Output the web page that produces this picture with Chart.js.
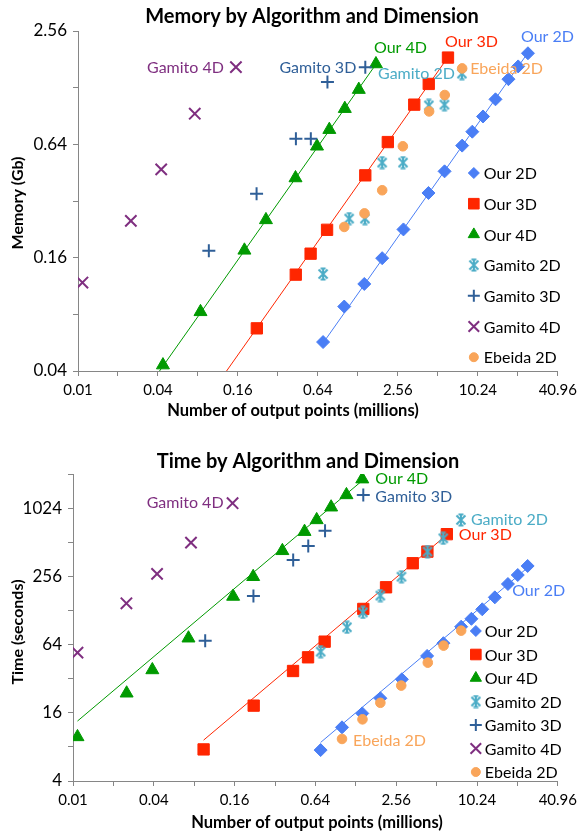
<!DOCTYPE html>
<html>
<head>
<meta charset="utf-8">
<script src="https://cdn.jsdelivr.net/npm/chart.js@4.4.1/dist/chart.umd.min.js"></script>
<style>
  body { margin: 0; background: #fff; }
  #wrap { position: relative; width: 582px; height: 833px; }
  .box { position: absolute; left: 0; width: 582px; }
  #memBox { top: 0; height: 430px; }
  #timeBox { top: 430px; height: 403px; }
</style>
</head>
<body>
<div id="wrap">
  <div class="box" id="memBox"><canvas id="mem"></canvas></div>
  <div class="box" id="timeBox"><canvas id="time"></canvas></div>
</div>
<script>
// output points (millions) per series
const our2dN = [0.70, 1.01, 1.43, 1.95, 2.82, 4.35, 5.75, 7.8, 9.3, 11.2, 13.9, 17.4, 20.6, 24.4]
const our3dN = [0.094, 0.222, 0.436, 0.564, 0.75, 1.455, 2.15, 3.40, 4.37, 6.1]
const our4dMemN = [0.0108, 0.0251, 0.0436, 0.0836, 0.179, 0.26, 0.434, 0.63, 0.78, 1.02, 1.30, 1.75]
const our4dTimeN = [0.0108, 0.0251, 0.039, 0.0725, 0.156, 0.22, 0.363, 0.531, 0.654, 0.838, 1.09, 1.43]
const gamito2dN = [0.70, 1.10, 1.445, 1.95, 2.80, 4.38, 5.74, 7.77]
const gamito3dN = [0.0966, 0.221, 0.437, 0.566, 0.755, 1.455]
const gamito4dN = [0.0108, 0.025, 0.0423, 0.0757, 0.1545]
const ebeida2dN = [1.01, 1.435, 1.95, 2.79, 4.4, 5.77, 7.8]

// memory (Gb), null = below the axis
const our2dMem = [0.057, 0.088, 0.116, 0.159, 0.226, 0.353, 0.46, 0.63, 0.747, 0.90, 1.11, 1.42, 1.66, 1.95]
const our3dMem = [null, 0.0674, 0.130, 0.168, 0.225, 0.438, 0.658, 1.04, 1.34, 1.85]
const our4dMem = [null, null, 0.043, 0.0825, 0.175, 0.254, 0.424, 0.625, 0.766, 0.99, 1.25, 1.71]
const gamito2dMem = [0.131, 0.258, 0.258, 0.512, 0.512, 1.03, 1.04, 1.52]
const gamito3dMem = [0.174, 0.350, 0.686, 0.686, 1.37, 1.645]
const gamito4dMem = [0.118, 0.251, 0.471, 0.931, 1.645]
const ebeida2dMem = [0.233, 0.275, 0.365, 0.625, 0.957, 1.17, 1.62]

// time (seconds)
const our2dTime = [7.5, 11.9, 15.8, 21.5, 31.6, 50.8, 65.8, 92, 108, 131, 167, 219, 263, 316]
const our3dTime = [7.6, 18.5, 37.4, 49.4, 67.9, 132, 205, 334, 423, 603]
const our4dTime = [9.8, 23.8, 38.2, 72.8, 170, 254, 430, 635, 806, 1043, 1339, 1845]
const gamito2dTime = [55.4, 90.9, 123, 173, 254, 423, 555, 806]
const gamito3dTime = [69.3, 172, 357, 475, 648, 1339]
const gamito4dTime = [54.3, 148, 269, 508, 1131]
const ebeida2dTime = [9.4, 14.0, 19.6, 27.8, 44.3, 62.6, 84.9]

const seriesNames = ['Our 2D', 'Our 3D', 'Our 4D', 'Gamito 2D', 'Gamito 3D', 'Gamito 4D', 'Ebeida 2D']

// tick labels
const xTickLabels = ['0.01', '0.04', '0.16', '0.64', '2.56', '10.24', '40.96']
const memTickLabels = ['0.04', '0.16', '0.64', '2.56']
const timeTickLabels = ['4', '16', '64', '256', '1024']
const timeMax = 2048

const FONT = 'Lato, Carlito, Calibri, sans-serif'
Chart.defaults.font.family = FONT
Chart.defaults.color = '#000'

function asterisk(color) {
  const c = document.createElement('canvas')
  c.width = 14
  c.height = 14
  const g = c.getContext('2d')
  g.strokeStyle = color
  g.lineWidth = 2
  g.beginPath()
  g.moveTo(2.5, 2.5); g.lineTo(11.5, 11.5)
  g.moveTo(11.5, 2.5); g.lineTo(2.5, 11.5)
  g.moveTo(7, 1); g.lineTo(7, 13)
  g.moveTo(4.5, 1.5); g.lineTo(9.5, 1.5)
  g.moveTo(4.5, 12.5); g.lineTo(9.5, 12.5)
  g.stroke()
  return c
}

const looks = [
  { color: '#4a7ef5', style: 'rectRot', r: 6.5, lr: 5.5, bw: 1 },
  { color: '#ff2600', style: 'rect', r: 8, lr: 7.5, bw: 1 },
  { color: '#009a00', style: 'triangle', r: 7.5, lr: 6.5, bw: 1 },
  { color: '#4bacc6', style: asterisk('#4bacc6'), r: 7, lr: 7, bw: 1 },
  { color: '#2f5f98', style: 'cross', r: 6.5, lr: 6, bw: 2 },
  { color: '#7f2f80', style: 'crossRot', r: 8, lr: 7.5, bw: 2 },
  { color: '#f9a55a', style: 'circle', r: 4.8, lr: 4.5, bw: 1 },
]

// linear trendline through the origin (y = a * x)
function originFit(xs, ys) {
  let sxy = 0, sxx = 0
  xs.forEach((x, i) => {
    if (ys[i] == null) return
    sxy += x * ys[i]
    sxx += x * x
  })
  return sxy / sxx
}

function buildDatasets(xsList, ysList, labels) {
  const sets = seriesNames.map((name, i) => {
    const lk = looks[i]
    return {
      label: name,
      data: xsList[i].map((x, j) => ({ x, y: ysList[i][j] })),
      pointStyle: lk.style,
      pointRadius: lk.r,
      legendRadius: lk.lr,
      backgroundColor: lk.color,
      borderColor: lk.color,
      borderWidth: lk.bw,
      showLine: false,
      order: 10 - i,
      inLegend: true,
      pointLabel: labels[i],
    }
  })
  ;[0, 1, 2].forEach((i) => {
    const xs = xsList[i]
    const a = originFit(xs, ysList[i])
    const x0 = Math.min(...xs), x1 = Math.max(...xs)
    sets.push({
      label: seriesNames[i] + ' trend',
      data: [{ x: x0, y: a * x0 }, { x: x1, y: a * x1 }],
      showLine: true,
      pointRadius: 0,
      borderColor: looks[i].color,
      borderWidth: 1,
      order: 20,
    })
  })
  return sets
}

const sideLegend = {
  id: 'sideLegend',
  afterDraw(chart, args, opts) {
    const { ctx, chartArea } = chart
    const x = chartArea.right + opts.dx
    let y = chartArea.top + opts.dy
    chart.data.datasets.forEach((ds) => {
      if (!ds.inLegend) return
      ctx.save()
      ctx.fillStyle = ds.backgroundColor
      ctx.strokeStyle = ds.borderColor
      ctx.lineWidth = ds.borderWidth
      Chart.helpers.drawPoint(ctx, { pointStyle: ds.pointStyle, radius: ds.legendRadius, rotation: 0, borderWidth: ds.borderWidth }, x, y)
      ctx.fillStyle = '#000'
      ctx.font = '16px ' + FONT
      ctx.textAlign = 'left'
      ctx.textBaseline = 'middle'
      ctx.fillText(ds.label, x + opts.textGap, y + 1)
      ctx.restore()
      y += opts.gap
    })
  },
}

const pointLabels = {
  id: 'pointLabels',
  afterDatasetsDraw(chart) {
    const { ctx } = chart
    chart.data.datasets.forEach((ds, i) => {
      const lab = ds.pointLabel
      if (!lab) return
      const pts = chart.getDatasetMeta(i).data
      const el = pts[lab.index === 'last' ? pts.length - 1 : lab.index]
      ctx.save()
      ctx.fillStyle = ds.borderColor
      ctx.font = '16px ' + FONT
      ctx.textAlign = lab.align
      ctx.textBaseline = 'middle'
      ctx.fillText(ds.label, el.x + lab.dx, el.y + lab.dy)
      ctx.restore()
    })
  },
}

// chart title and axis titles placed like the original
const titles = {
  id: 'titles',
  afterDraw(chart, args, opts) {
    const { ctx } = chart
    ctx.save()
    ctx.fillStyle = '#000'
    ctx.textAlign = 'center'
    ctx.textBaseline = 'middle'
    ctx.font = 'bold 20px ' + FONT
    ctx.fillText(opts.title, opts.titleX, opts.titleY)
    ctx.font = 'bold 16.5px ' + FONT
    ctx.fillText(opts.xTitle, opts.xTitleX, opts.xTitleY)
    ctx.font = 'bold 16px ' + FONT
    ctx.translate(opts.yTitleX, opts.yTitleY)
    ctx.rotate(-Math.PI / 2)
    ctx.fillText(opts.yTitle, 0, 0)
    ctx.restore()
  },
}

function logAxis(labels, max, fixed, isX) {
  const min = parseFloat(labels[0])
  const majors = labels.map(parseFloat)
  return {
    type: 'logarithmic',
    min,
    max,
    afterBuildTicks: (scale) => {
      const t = []
      for (let v = min; v <= max * 1.0001; v *= 2) t.push({ value: v })
      scale.ticks = t
    },
    afterFit: (scale) => {
      if (isX) scale.height = fixed
      else scale.width = fixed
    },
    ticks: {
      autoSkip: false,
      maxRotation: 0,
      padding: isX ? 5 : 6,
      font: { size: isX ? 15 : 17 },
      color: '#000',
      callback: (v) => {
        const k = majors.findIndex((m) => Math.abs(v / m - 1) < 1e-6)
        return k >= 0 ? labels[k] : ''
      },
    },
    grid: { drawOnChartArea: false, drawTicks: true, tickLength: 5, color: '#868686' },
    border: { display: true, color: '#868686', width: 1 },
    title: { display: false },
  }
}

function makeChart(id, cfg) {
  new Chart(document.getElementById(id), {
    type: 'scatter',
    data: { datasets: buildDatasets(cfg.xs, cfg.ys, cfg.labels) },
    options: {
      responsive: true,
      maintainAspectRatio: false,
      animation: false,
      events: [],
      layout: { padding: { top: cfg.top, right: cfg.right, left: 0, bottom: 0 } },
      scales: {
        x: logAxis(xTickLabels, 40.96, cfg.xHeight, true),
        y: logAxis(cfg.yLabels, cfg.yMax, cfg.yWidth, false),
      },
      plugins: {
        legend: { display: false },
        tooltip: { enabled: false },
        title: { display: false },
        sideLegend: cfg.legend,
        titles: cfg.titles,
      },
    },
    plugins: [sideLegend, pointLabels, titles],
  })
}

makeChart('mem', {
  top: 31,
  yLabels: memTickLabels,
  yMax: 2.56,
  yWidth: 78,
  xHeight: 59,
  right: 22,
  xs: [our2dN, our3dN, our4dMemN, gamito2dN, gamito3dN, gamito4dN, ebeida2dN],
  ys: [our2dMem, our3dMem, our4dMem, gamito2dMem, gamito3dMem, gamito4dMem, ebeida2dMem],
  labels: [
    { index: 'last', align: 'left', dx: -7, dy: -16 },
    { index: 'last', align: 'left', dx: -3, dy: -16 },
    { index: 'last', align: 'left', dx: -2, dy: -16 },
    { index: 'last', align: 'right', dx: -7, dy: 0 },
    { index: 'last', align: 'right', dx: -9, dy: 1 },
    { index: 'last', align: 'right', dx: -12, dy: 1 },
    { index: 'last', align: 'left', dx: 8, dy: 0 },
  ],
  legend: { dx: -84, dy: 142, gap: 30.7, textGap: 10 },
  titles: {
    title: 'Memory by Algorithm and Dimension', titleX: 312, titleY: 17,
    xTitle: 'Number of output points (millions)', xTitleX: 293, xTitleY: 411,
    yTitle: 'Memory (Gb)', yTitleX: 18, yTitleY: 203,
  },
})

makeChart('time', {
  top: 44,
  yLabels: timeTickLabels,
  yMax: timeMax,
  yWidth: 73,
  xHeight: 52,
  right: 21,
  xs: [our2dN, our3dN, our4dTimeN, gamito2dN, gamito3dN, gamito4dN, ebeida2dN],
  ys: [our2dTime, our3dTime, our4dTime, gamito2dTime, gamito3dTime, gamito4dTime, ebeida2dTime],
  labels: [
    { index: 'last', align: 'center', dx: 11, dy: 25 },
    { index: 'last', align: 'left', dx: 12, dy: 1 },
    { index: 'last', align: 'left', dx: 13, dy: 0 },
    { index: 'last', align: 'left', dx: 10, dy: 0 },
    { index: 'last', align: 'left', dx: 12, dy: 2 },
    { index: 'last', align: 'right', dx: -9, dy: 0 },
    { index: 0, align: 'left', dx: 11, dy: 2 },
  ],
  legend: { dx: -82, dy: 157, gap: 23.5, textGap: 9 },
  titles: {
    title: 'Time by Algorithm and Dimension', titleX: 308, titleY: 32,
    xTitle: 'Number of output points (millions)', xTitleX: 317, xTitleY: 393,
    yTitle: 'Time (seconds)', yTitleX: 18, yTitleY: 202,
  },
})
</script>
</body>
</html>
